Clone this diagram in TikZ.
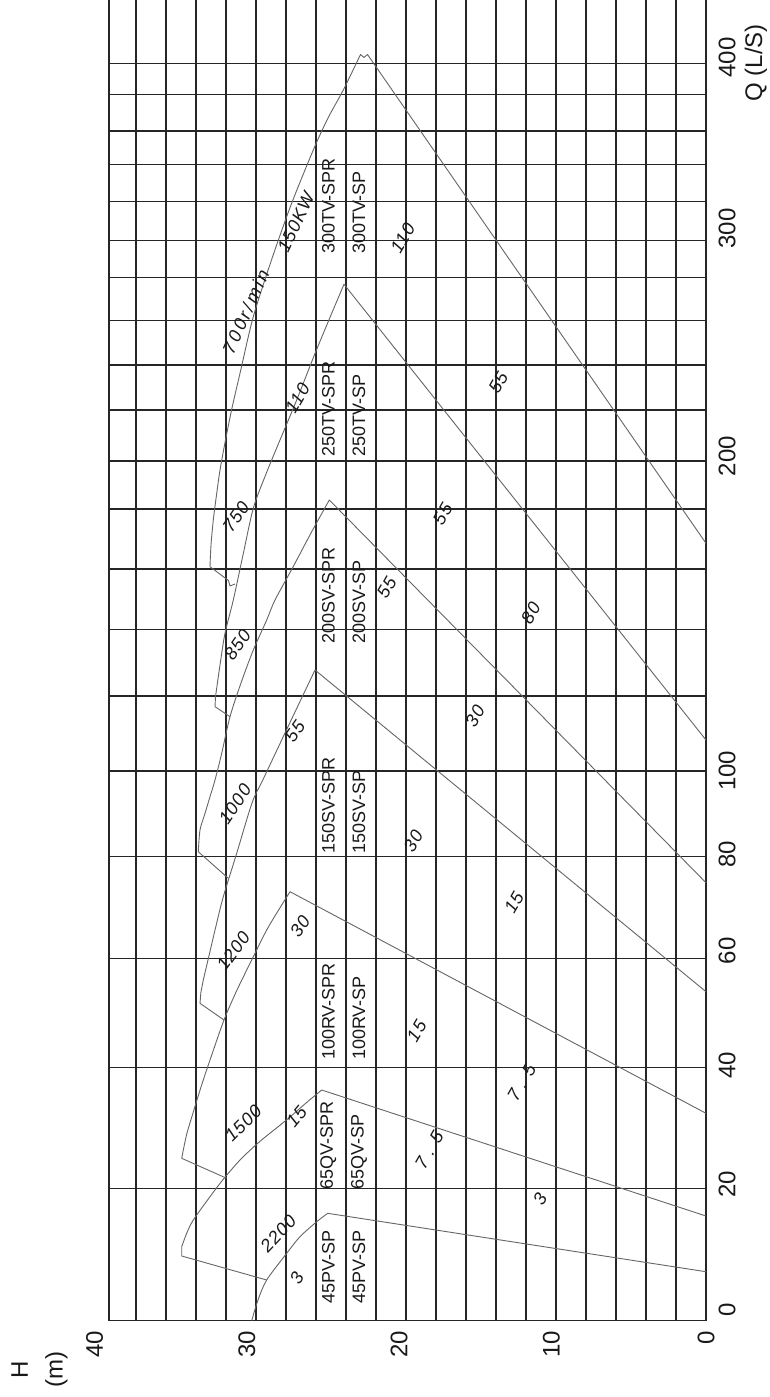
\documentclass[tikz,border=0pt]{standalone}
\usepackage{fontspec}
\setmainfont{Liberation Sans}
\usepackage{tikz}
\usetikzlibrary{positioning}

\tikzset{
    gridline/.style = {black!85, line width=1.4pt},
    pumpcurve/.style = {black!60, line width=0.9pt, line join=round},
    modeltext/.style = {rotate=90, anchor=west, inner sep=0pt, text=black!90, font=\fontsize{18}{18}\selectfont},
    curvetext/.style = {inner sep=0pt, text=black!90, font=\fontsize{18}{18}\selectfont\itshape\addfontfeature{LetterSpace=6}},
    axistext/.style = {rotate=90, inner sep=0pt, text=black!90, font=\fontsize{24}{24}\selectfont},
}

\begin{document}
\begin{tikzpicture}[x=1pt, y=-1pt]
    \useasboundingbox[fill=white] (0,0) rectangle (770,1397);

    % grid: H lines run up the page, Q lines across
    \draw[gridline] (109,0) -- (109,1320.7);
    \foreach \j in {1,...,20}
        \draw[gridline] ({106+30*\j},0) -- ({106+30*\j},1320.7);
    \foreach \y in {1320.7,1188.3,1067.3,958.3,856.7,771,696,629.3,569,509,461,410,365,320.7,277.3,240.7,201.7,164.3,131,94.3,63.3}
        \draw[gridline] (109,\y) -- (706,\y);

    % axes
    \foreach \q/\y in {400/57.5, 300/228.5, 200/456, 100/770.8, 80/854, 60/950.8, 40/1065, 20/1184, 0/1310}
        \node[axistext] (qlab\q) at (727,\y) {\q};
    \node[axistext, anchor=west] (qname) at (756,101.7) {Q (L/S)};
    \foreach \h/\x in {40/94.5, 30/246.8, 20/399, 10/551.4, 0/706}
        \node[axistext, anchor=east] (hlab\h) at (\x,1331) {\h};
    \node[axistext] (hname) at (19.6,1370) {H};
    \node[axistext] (hunit) at (56.5,1369) {(m)};

    % apex and end of each pump range
    \coordinate (a45) at (327.7,1213.3);  \coordinate (e45) at (706,1271.7);
    \coordinate (a65) at (321.7,1090);    \coordinate (e65) at (706,1216);
    \coordinate (a100) at (290,891.7);    \coordinate (e100) at (706,1113.3);
    \coordinate (a150) at (315,670);      \coordinate (e150) at (706,991.7);
    \coordinate (a200) at (329.3,500);    \coordinate (e200) at (706,882.7);
    \coordinate (a250) at (344,284.3);    \coordinate (e250) at (706,740);
    \coordinate (a300) at (367.5,54.5);   \coordinate (e300) at (706,543.3);

    \draw[pumpcurve] plot[smooth] coordinates {(251.7,1320.7) (258,1300) (266.7,1280) (286.7,1253.3) (300,1236.7) (316.7,1221.7) (a45)} -- (e45);
    \draw[pumpcurve] (266.7,1280) -- (181.7,1256) -- plot[smooth] coordinates {(181.7,1246.7) (186.7,1233.3) (193.3,1220) (210,1196.7) (222.7,1180) (240,1160) (258,1143) (274,1130) (290,1117) (306,1103) (a65)} -- (e65);
    \draw[pumpcurve] (226.7,1178.3) -- plot[smooth] coordinates {(181.7,1158.3) (186.5,1135) (193,1113) (201,1087) (210,1060) (224,1020) (237,990) (251.7,960) (266.7,930) (278,911) (a100)} -- (e100);
    \draw[pumpcurve] (224,1020) -- (200,1003.3) -- plot[smooth] coordinates {(200.8,993) (203.3,980) (208,960) (215.5,928) (223.3,896.7) (236.7,853.3) (252,803) (262.8,780) (285,733) (a150)} -- (e150);
    \draw[pumpcurve] (228.3,878.3) -- plot[smooth] coordinates {(198.3,851.7) (200,830) (204.5,815) (209,800) (215,780) (221.7,753.3) (230,716.7) (241,683) (253.3,650) (266.7,620) (275,600) (293,567) (311,533) (a200)} -- (e200);
    \draw[pumpcurve] (230,716.7) -- (215,706.7) -- plot[smooth] coordinates {(215.5,696.7) (220,665) (225,633.3) (233.3,600) (243,555) (253.3,508.3) (266,474) (280,440) (296.7,400) (314,356) (331,315) (a250)} -- (e250);
    \draw[pumpcurve] (235,584) -- (230,586) -- (228.5,580.5) -- plot[smooth] coordinates {(210,566.7) (211,545) (213.3,520) (216.5,495) (220,470) (225.5,440) (232,408) (240,373.3) (253.3,316.7) (271.5,260) (291,205) (313.3,150) (328,118) (343.3,90) (360.5,54.5)} -- (364,57.5) -- (a300) -- (e300);

    % pump names
    \foreach \lbla/\lblb/\y [count=\i] in {45PV-SP/45PV-SP/1303.3, 65QV-SPR/65QV-SP/1190, 100RV-SPR/100RV-SP/1060, 150SV-SPR/150SV-SP/853.3, 200SV-SPR/200SV-SP/644, 250TV-SPR/250TV-SP/456.7, 300TV-SPR/300TV-SP/253.3}
    {
        \node[modeltext] (spr\i) at (328.3,\y) {\lbla};
        \node[modeltext] (sp\i) at (359,\y) {\lblb};
    }

    % speed and power labels
    \foreach \t/\x/\y/\r [count=\i] in {3/296.7/1278.3/60, 2200/278.3/1233.3/47, 1500/243.3/1123.3/45, 15/296.7/1116.7/50,
        1200/233.3/950.8/54, 30/300/926.7/55, 1000/235/804/56, 55/295/731/55, 850/237.5/645/55, 55/386.7/587.5/60,
        750/236/516.7/55, 110/297.5/398/60, 110/402.7/238.3/60, 55/498.3/382.6/60, 55/442.7/514/60, 80/530.7/613/60,
        30/475/716/60, 30/413.3/841.3/60, 15/514/902.4/60, 15/416.7/1030.9/60, 7 . 5/521.7/1082.9/60, 7 . 5/429.3/1150.2/60,
        3/540/1199/60}
        \node[curvetext, rotate=\r] (lab\i) at (\x,\y) {\t};
    \node[curvetext, rotate=66, font=\fontsize{18}{18}\selectfont\itshape\addfontfeature{LetterSpace=16}] (rpm) at (245.8,311.7) {700r/min};
    \node[curvetext, rotate=65] (kw) at (296,222.5) {150KW};
\end{tikzpicture}
\end{document}
